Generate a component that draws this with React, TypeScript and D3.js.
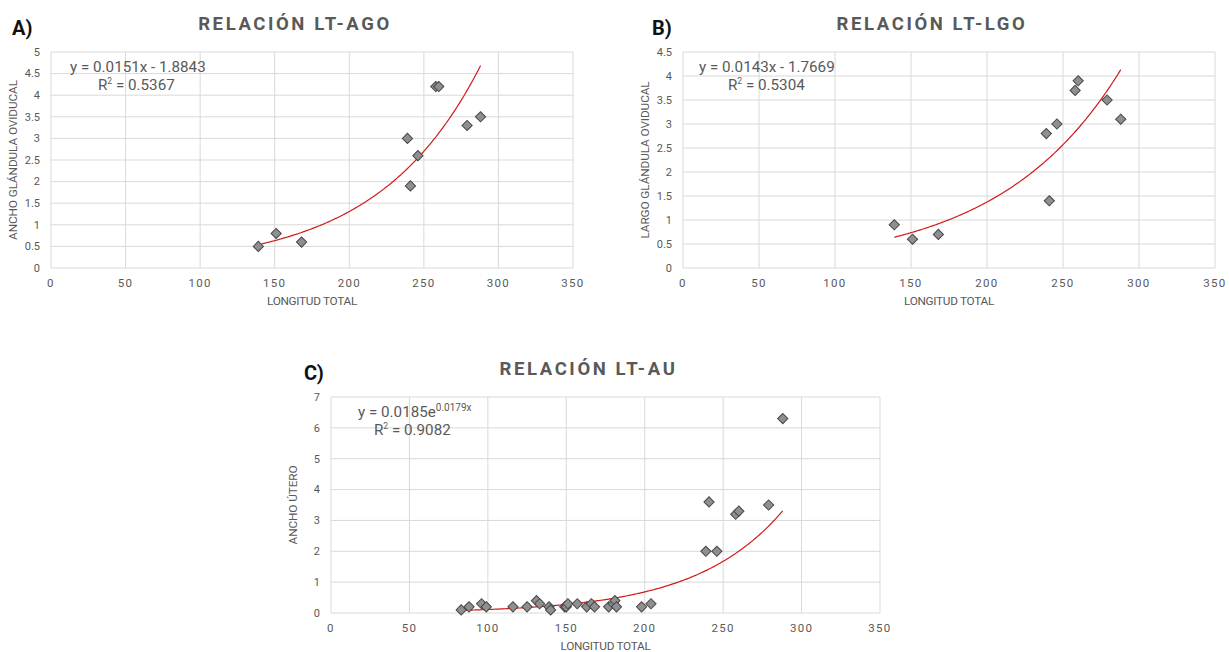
import * as d3 from 'd3';

// LT (longitud total) for the oviducal gland panels
const lengthAB = [139, 151, 168, 239, 241, 246, 258, 260, 279, 288];
const agoValues = [0.5, 0.8, 0.6, 3.0, 1.9, 2.6, 4.2, 4.2, 3.3, 3.5];
const lgoValues = [0.9, 0.6, 0.7, 2.8, 1.4, 3.0, 3.7, 3.9, 3.5, 3.1];

// LT vs ancho útero
const lengthC = [
  83, 88, 96, 99, 116, 125, 131, 133, 139, 140, 149, 150, 151, 157, 163, 166, 168,
  177, 180, 181, 182, 198, 204, 239, 241, 246, 258, 260, 279, 288,
];
const auValues = [
  0.1, 0.2, 0.3, 0.2, 0.2, 0.2, 0.4, 0.3, 0.2, 0.1, 0.2, 0.2, 0.3, 0.3, 0.2, 0.3, 0.2,
  0.2, 0.3, 0.4, 0.2, 0.2, 0.3, 2.0, 3.6, 2.0, 3.2, 3.3, 3.5, 6.3,
];

const xTicks = [0, 50, 100, 150, 200, 250, 300, 350];
const yTicksA = [0, 0.5, 1, 1.5, 2, 2.5, 3, 3.5, 4, 4.5, 5];
const yTicksB = [0, 0.5, 1, 1.5, 2, 2.5, 3, 3.5, 4, 4.5];
const yTicksC = [0, 1, 2, 3, 4, 5, 6, 7];

const grey = '#595959';
const font = 'Roboto, "Noto Sans", sans-serif';

// log-linear least squares -> y = a * e^(b x)
function expFit(xs: number[], ys: number[]) {
  const ly = ys.map((v) => Math.log(v));
  const mx = d3.mean(xs)!;
  const my = d3.mean(ly)!;
  let sxy = 0;
  let sxx = 0;
  xs.forEach((x, i) => {
    sxy += (x - mx) * (ly[i] - my);
    sxx += (x - mx) * (x - mx);
  });
  const b = sxy / sxx;
  return { a: Math.exp(my - b * mx), b };
}

interface PanelProps {
  tag: string;
  tagDx: number;
  title: string;
  yTitle: string;
  xs: number[];
  ys: number[];
  yTicks: number[];
  box: { left: number; right: number; top: number; bottom: number };
  eq: string;
  eqSup?: string;
  r2: string;
  eqDx: number;
  r2Dx: number;
}

const Panel = ({ tag, tagDx, title, yTitle, xs, ys, yTicks, box, eq, eqSup, r2, eqDx, r2Dx }: PanelProps) => {
  const x = d3.scaleLinear().domain([0, 350]).range([box.left, box.right]);
  const y = d3
    .scaleLinear()
    .domain([0, yTicks[yTicks.length - 1]])
    .range([box.bottom, box.top]);

  const fit = expFit(xs, ys);
  const [x0, x1] = d3.extent(xs) as [number, number];
  const fitXs = d3.range(x0, x1, 1).concat([x1]);
  const line = d3
    .line<number>()
    .x((d) => x(d))
    .y((d) => y(fit.a * Math.exp(fit.b * d)))
    .curve(d3.curveMonotoneX);

  const diamond = d3.symbol().type(d3.symbolSquare).size(52)();
  const cx = (box.left + box.right) / 2;
  const cy = (box.top + box.bottom) / 2;

  return (
    <g>
      <text x={box.left + tagDx} y={box.top - 17} fontFamily={font} fontWeight={700} fontSize={20} fill="#111">
        {tag}
      </text>
      <text
        x={cx - 17}
        y={box.top - 22}
        textAnchor="middle"
        fontFamily={font}
        fontWeight={700}
        fontSize={18.5}
        letterSpacing={2.6}
        fill={grey}
      >
        {title}
      </text>

      {yTicks.map((t) => (
        <line key={'gy' + t} x1={box.left} x2={box.right} y1={y(t)} y2={y(t)} stroke="#d9d9d9" strokeWidth={1} />
      ))}
      {xTicks.map((t) => (
        <line key={'gx' + t} x1={x(t)} x2={x(t)} y1={box.top} y2={box.bottom} stroke="#d9d9d9" strokeWidth={1} />
      ))}

      {yTicks.map((t) => (
        <text
          key={'ty' + t}
          x={box.left - 11}
          y={y(t)}
          dy="0.35em"
          textAnchor="end"
          fontFamily={font}
          fontSize={11}
          fill={grey}
        >
          {String(t)}
        </text>
      ))}
      {xTicks.map((t) => (
        <text
          key={'tx' + t}
          x={x(t)}
          y={box.bottom + 19}
          textAnchor="middle"
          fontFamily={font}
          fontSize={11.5}
          letterSpacing={1.3}
          fill={grey}
        >
          {String(t)}
        </text>
      ))}

      <text
        x={cx}
        y={box.bottom + 36.5}
        textAnchor="middle"
        fontFamily={font}
        fontSize={11.8}
        letterSpacing={-0.3}
        fill={grey}
      >
        LONGITUD TOTAL
      </text>
      <text
        transform={`translate(${box.left - 37},${cy}) rotate(-90)`}
        textAnchor="middle"
        dominantBaseline="middle"
        fontFamily={font}
        fontSize={11.8}
        letterSpacing={-0.1}
        fill={grey}
      >
        {yTitle}
      </text>

      <path d={line(fitXs) ?? ''} fill="none" stroke="#d11a1a" strokeWidth={1.2} />

      {xs.map((v, i) => (
        <path
          key={'p' + i}
          d={diamond}
          transform={`translate(${x(v)},${y(ys[i])}) rotate(45)`}
          fill="#8f8f8f"
          stroke="#474747"
          strokeWidth={1}
        />
      ))}

      <text x={box.left + eqDx} y={box.top + 20} fontFamily={font} fontSize={15.2} fill={grey}>
        {eq}
        {eqSup && (
          <tspan fontSize={10} dy={-6}>
            {eqSup}
          </tspan>
        )}
      </text>
      <text x={box.left + r2Dx} y={box.top + 38} fontFamily={font} fontSize={15.2} fill={grey}>
        R<tspan fontSize={8.5} dy={-6}>2</tspan>
        <tspan dy={6}> = {r2}</tspan>
      </text>
    </g>
  );
};

export default function App() {
  return (
    <div style={{ position: 'absolute', left: 0, top: 0, background: '#fff' }}>
      <svg width={1229} height={652} style={{ display: 'block' }}>
        <rect width={1229} height={652} fill="#fff" />
        <Panel
          tag="A)"
          tagDx={-39}
          title="RELACIÓN LT-AGO"
          yTitle="ANCHO GLÁNDULA OVIDUCAL"
          xs={lengthAB}
          ys={agoValues}
          yTicks={yTicksA}
          box={{ left: 51, right: 573, top: 52, bottom: 268 }}
          eq="y = 0.0151x - 1.8843"
          r2="0.5367"
          eqDx={19}
          r2Dx={47}
        />
        <Panel
          tag="B)"
          tagDx={-31}
          title="RELACIÓN LT-LGO"
          yTitle="LARGO GLÁNDULA OVIDUCAL"
          xs={lengthAB}
          ys={lgoValues}
          yTicks={yTicksB}
          box={{ left: 683, right: 1215, top: 52, bottom: 268 }}
          eq="y = 0.0143x - 1.7669"
          r2="0.5304"
          eqDx={16}
          r2Dx={45}
        />
        <Panel
          tag="C)"
          tagDx={-27}
          title="RELACIÓN LT-AU"
          yTitle="ANCHO ÚTERO"
          xs={lengthC}
          ys={auValues}
          yTicks={yTicksC}
          box={{ left: 331, right: 880, top: 397, bottom: 613 }}
          eq="y = 0.0185e"
          eqSup="0.0179x"
          r2="0.9082"
          eqDx={27}
          r2Dx={43}
        />
      </svg>
    </div>
  );
}
